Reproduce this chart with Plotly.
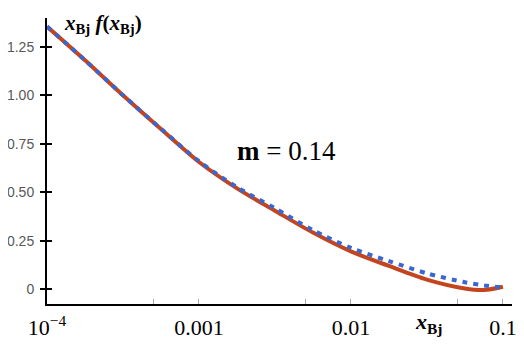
import plotly.graph_objects as go

# data
x_vals = [1e-4, 1.78e-4, 3.16e-4, 5.62e-4, 1e-3, 1.78e-3, 3.16e-3, 5.62e-3,
          1e-2, 1.78e-2, 3.16e-2, 5.62e-2, 7.5e-2, 1e-1]
red_vals = [1.354, 1.18, 1.0, 0.826, 0.656, 0.52, 0.405, 0.292,
            0.195, 0.12, 0.05, 0.004, -0.004, 0.013]
blue_vals = [1.354, 1.18, 1.0, 0.827, 0.660, 0.526, 0.418, 0.305,
             0.213, 0.145, 0.082, 0.036, 0.02, 0.008]

x_tickvals = [1e-4, 1e-3, 1e-2, 1e-1]
x_ticktext = ["10<sup>\u22124</sup>", "0.001", "0.01", "0.1"]
x_minor_tickvals = [5e-4, 5e-3, 5e-2]
y_tickvals = [0, 0.25, 0.5, 0.75, 1.0, 1.25]
y_ticktext = ["0", "0.25", "0.50", "0.75", "1.00", "1.25"]

RED = "#C4441D"
BLUE = "#3A66D0"
SERIF = "Liberation Serif"
SANS = "Liberation Sans"

fig = go.Figure()
fig.add_trace(go.Scatter(x=x_vals, y=red_vals, mode="lines",
                         line=dict(color=RED, width=4, shape="spline", smoothing=0.8),
                         showlegend=False, hoverinfo="skip"))
fig.add_trace(go.Scatter(x=x_vals, y=blue_vals, mode="lines",
                         line=dict(color=BLUE, width=4, shape="spline", smoothing=0.8,
                                   dash="5px,6px"),
                         showlegend=False, hoverinfo="skip"))
# invisible trace to anchor second y axis (inside ticks)
fig.add_trace(go.Scatter(x=[x_vals[0]], y=[red_vals[0]], yaxis="y2", mode="markers",
                         marker=dict(opacity=0), showlegend=False, hoverinfo="skip"))

# page body has an 8px default margin, so the figure is sized to fit the window
fig.update_layout(
    width=516, height=338,
    margin=dict(l=39, r=12, t=10, b=42),
    paper_bgcolor="white", plot_bgcolor="white",
    xaxis=dict(type="log", range=[-4, -0.94], automargin=False,
               tickvals=x_tickvals, ticktext=x_ticktext,
               ticks="inside", ticklen=5, tickwidth=1, tickcolor="#AAAAAA",
               minor=dict(tickvals=x_minor_tickvals, ticks="inside", ticklen=5,
                          tickwidth=1, tickcolor="#AAAAAA", showgrid=False),
               showline=True, linecolor="black", linewidth=2,
               showgrid=False, zeroline=False, ticklabelstandoff=3,
               tickfont=dict(family=SERIF, size=22, color="black")),
    yaxis=dict(range=[-0.076, 1.398], automargin=False,
               tickvals=y_tickvals, ticktext=y_ticktext,
               ticks="outside", ticklen=5, tickwidth=2, tickcolor="black",
               showline=True, linecolor="black", linewidth=2,
               showgrid=False, zeroline=False, ticklabelstandoff=3,
               tickfont=dict(family=SANS, size=14, color="#595959")),
    yaxis2=dict(overlaying="y", matches="y", side="left", automargin=False,
                tickvals=y_tickvals, ticks="inside", ticklen=5, tickwidth=2,
                tickcolor="black", showticklabels=False, showline=False,
                showgrid=False, zeroline=False),
    annotations=[
        dict(text="<b><i>x</i><sub>Bj</sub> <i>f</i>(<i>x</i><sub>Bj</sub>)</b>",
             xref="paper", yref="paper", x=0.032, y=0.98,
             xanchor="left", yanchor="middle", showarrow=False,
             font=dict(family=SERIF, size=21, color="black")),
        dict(text="<b><i>x</i><sub>Bj</sub></b>",
             xref="paper", yref="paper", x=0.787, y=-0.065,
             xanchor="left", yanchor="middle", showarrow=False,
             font=dict(family=SERIF, size=22, color="black")),
        dict(text="<b>m</b> = 0.14",
             xref="paper", yref="paper", x=0.405, y=0.536,
             xanchor="left", yanchor="middle", showarrow=False,
             font=dict(family=SERIF, size=27, color="black")),
    ],
)

fig.write_html("out.html")
